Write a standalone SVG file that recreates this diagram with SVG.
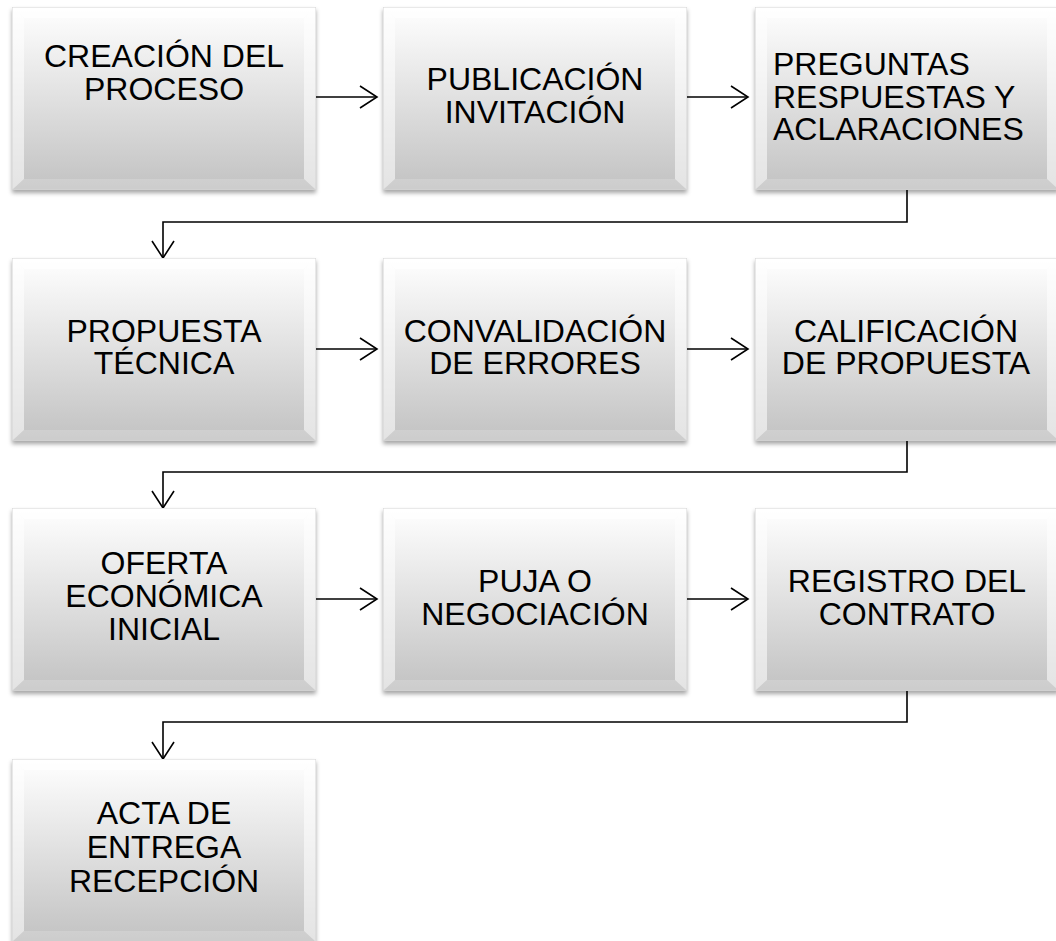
<svg xmlns="http://www.w3.org/2000/svg" xmlns:xlink="http://www.w3.org/1999/xlink" width="1056" height="941" viewBox="0 0 1056 941">
<style>
.t{font-family:"Liberation Sans",Arial,sans-serif;font-size:32px;fill:#000;text-anchor:middle}
.l{text-anchor:start}
.c{fill:none;stroke:#000;stroke-width:1.6}
</style>
<defs>
<linearGradient id="g" x1="0" y1="0" x2="0" y2="1">
<stop offset="0" stop-color="#ffffff"/>
<stop offset="1" stop-color="#c2c2c2"/>
</linearGradient>
<filter id="sh" x="-5%" y="-5%" width="110%" height="115%">
<feDropShadow dx="0" dy="3" stdDeviation="2" flood-color="#000" flood-opacity="0.35"/>
</filter>
<marker id="ah" viewBox="0 0 20 24" refX="18" refY="12" markerWidth="20" markerHeight="24" markerUnits="userSpaceOnUse" orient="auto">
<path d="M1,1 L18,12 L1,23" fill="none" stroke="#000" stroke-width="1.6"/>
</marker>
<g id="box">
<rect x="0" y="0" width="304" height="183" fill="url(#g)" filter="url(#sh)"/>
<polygon points="0,0 304,0 292,11 12,11" fill="#fff" fill-opacity="0.65"/>
<polygon points="0,0 12,11 12,172 0,183" fill="#fff" fill-opacity="0.55"/>
<polygon points="304,0 304,183 292,172 292,11" fill="#fff" fill-opacity="0.55"/>
<polygon points="0,183 12,172 292,172 304,183" fill="#fff" fill-opacity="0.18"/>
<rect x="0.25" y="0.25" width="303.5" height="182.5" fill="none" stroke="#d4d4d4" stroke-width="0.5"/>
</g>
</defs>
<rect width="1056" height="941" fill="#fff"/>
<g id="connectors">
<line class="c" x1="316" y1="97" x2="377" y2="97" marker-end="url(#ah)"/>
<line class="c" x1="687" y1="97" x2="748" y2="97" marker-end="url(#ah)"/>
<polyline class="c" points="907,190 907,222 163,222 163,258" marker-end="url(#ah)"/>
<line class="c" x1="316" y1="349" x2="377" y2="349" marker-end="url(#ah)"/>
<line class="c" x1="687" y1="349" x2="748" y2="349" marker-end="url(#ah)"/>
<polyline class="c" points="907,441 907,472 163,472 163,508" marker-end="url(#ah)"/>
<line class="c" x1="316" y1="599" x2="377" y2="599" marker-end="url(#ah)"/>
<line class="c" x1="687" y1="599" x2="748" y2="599" marker-end="url(#ah)"/>
<polyline class="c" points="907,691 907,722 163,722 163,759" marker-end="url(#ah)"/>
</g>
<g id="n1"><use xlink:href="#box" x="12" y="7"/>
<text class="t" x="164" y="67">CREACIÓN DEL</text><text class="t" x="164" y="100">PROCESO</text></g>
<g id="n2"><use xlink:href="#box" x="383" y="7"/>
<text class="t" x="535" y="90">PUBLICACIÓN</text><text class="t" x="535" y="123">INVITACIÓN</text></g>
<g id="n3"><use xlink:href="#box" x="755" y="7"/>
<text class="t l" x="773" y="75">PREGUNTAS</text><text class="t l" x="773" y="108">RESPUESTAS Y</text><text class="t l" x="773" y="140">ACLARACIONES</text></g>
<g id="n4"><use xlink:href="#box" x="12" y="258"/>
<text class="t" x="164" y="342">PROPUESTA</text><text class="t" x="164" y="374">TÉCNICA</text></g>
<g id="n5"><use xlink:href="#box" x="383" y="258"/>
<text class="t" x="535" y="342">CONVALIDACIÓN</text><text class="t" x="535" y="374">DE ERRORES</text></g>
<g id="n6"><use xlink:href="#box" x="755" y="258"/>
<text class="t" x="906" y="342">CALIFICACIÓN</text><text class="t" x="906" y="374">DE PROPUESTA</text></g>
<g id="n7"><use xlink:href="#box" x="12" y="508"/>
<text class="t" x="164" y="574">OFERTA</text><text class="t" x="164" y="607">ECONÓMICA</text><text class="t" x="164" y="640">INICIAL</text></g>
<g id="n8"><use xlink:href="#box" x="383" y="508"/>
<text class="t" x="535" y="592">PUJA O</text><text class="t" x="535" y="625">NEGOCIACIÓN</text></g>
<g id="n9"><use xlink:href="#box" x="755" y="508"/>
<text class="t" x="907" y="592">REGISTRO DEL</text><text class="t" x="907" y="625">CONTRATO</text></g>
<g id="n10"><use xlink:href="#box" x="12" y="759"/>
<text class="t" x="164" y="824">ACTA DE</text><text class="t" x="164" y="858">ENTREGA</text><text class="t" x="164" y="892">RECEPCIÓN</text></g>
</svg>
